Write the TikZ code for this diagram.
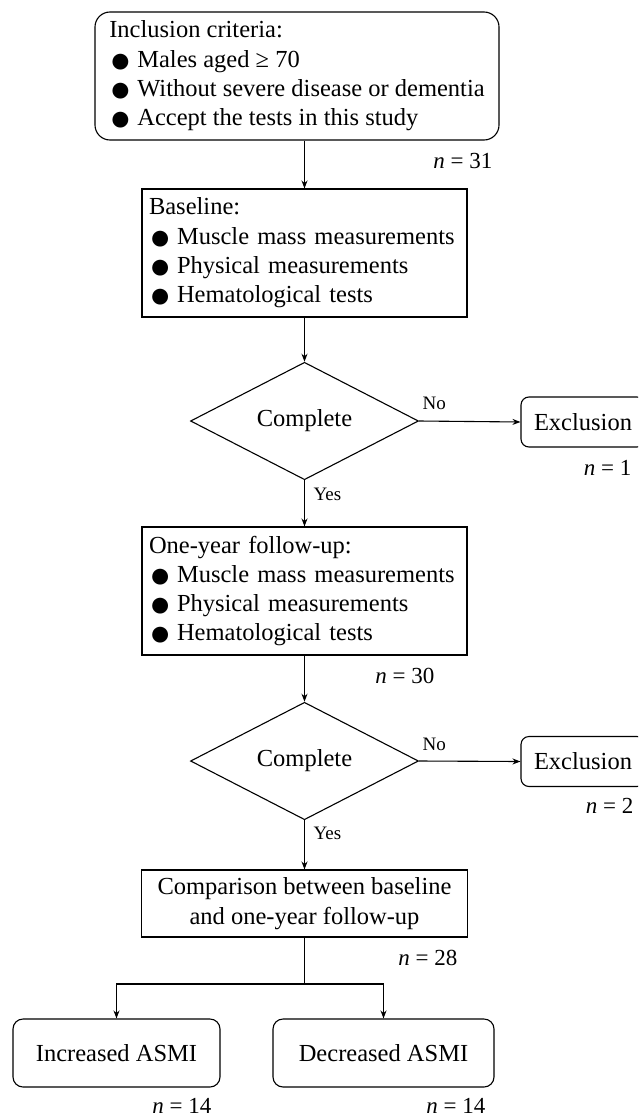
\documentclass[tikz,border=0pt]{standalone}
\usepackage{fontspec}
\usepackage{graphicx}
\setmainfont{Liberation Serif}
\usetikzlibrary{shapes.geometric,arrows.meta}
\newcommand{\boxsize}{\fontsize{24.5}{29.3}\selectfont}
\newcommand{\numsize}{\fontsize{23}{27}\selectfont}
\newcommand{\lblsize}{\fontsize{19}{23}\selectfont}
\newcommand{\itm}{\makebox[28pt][l]{\smash{\raisebox{-5pt}{\scalebox{1.5}{●}}}}}
\tikzset{
  sqbox/.style={draw,font=\boxsize,align=left,inner xsep=7pt,minimum width=325pt,minimum height=128pt,text width=311pt},
  rbox/.style={draw,font=\boxsize,rounded corners=10pt,align=center},
  check/.style={draw,diamond,font=\boxsize,inner sep=0pt,minimum width=228pt,minimum height=111pt},
  lbl/.style={font=\lblsize,inner sep=0pt,anchor=base west},
  num/.style={font=\numsize,inner sep=0pt,anchor=base east}
}
\begin{document}
\begin{tikzpicture}[x=1pt,y=-1pt,>={Stealth[length=8pt,width=6pt]},line width=1.1pt]
            \useasboundingbox (0,0) rectangle (638,1116);
            \clip (0,0) rectangle (638,1116);
            \node[rbox,rounded corners=15pt,align=left,inner xsep=13pt,minimum width=404pt,minimum height=128pt] (incl) at (297,76) {Inclusion criteria:\\ \itm Males aged ≥ 70\\ \itm Without severe disease or dementia\\ \itm Accept the tests in this study};
            \node[sqbox] (base) at (304.5,253) {Baseline:\\ \itm Muscle mass measurements\\ \itm Physical measurements\\ \itm Hematological tests};
            \node[check] (chk1) at (304.5,421) {Complete};
            \node[rbox,rounded corners=8pt,minimum width=124pt,minimum height=50pt] (exc1) at (583,422) {Exclusion};
            \node[sqbox] (fup) at (304.5,591) {One-year follow-up:\\ \itm Muscle mass measurements\\ \itm Physical measurements\\ \itm Hematological tests};
            \node[check] (chk2) at (304.5,761) {Complete};
            \node[rbox,rounded corners=8pt,minimum width=124pt,minimum height=50pt] (exc2) at (583,761.5) {Exclusion};
            \node[draw,font=\boxsize,align=center,minimum width=326pt,minimum height=67pt] (comp) at (304.5,903.5) {Comparison between baseline\\ and one-year follow-up};
            \node[rbox,minimum width=207pt,minimum height=68pt] (incr) at (116.5,1053) {Increased ASMI};
            \node[rbox,minimum width=221pt,minimum height=68pt] (decr) at (383.5,1053) {Decreased ASMI};
            \coordinate (split) at (304.5,984);
            % arrows
            \draw[->] (incl.south -| base.north) -- (base.north);
            \draw[->] (base.south) -- (chk1.north);
            \draw[->] (chk1.east) -- (exc1.west);
            \draw[->] (chk1.south) -- (fup.north);
            \draw[->] (fup.south) -- (chk2.north);
            \draw[->] (chk2.east) -- (exc2.west);
            \draw[->] (chk2.south) -- (comp.north);
            \draw (comp.south) -- (split);
            \draw[->] (split) -| (incr.north);
            \draw[->] (split) -| (decr.north);
            % labels
            \node[lbl] (no1) at (422,409) {No};
            \node[lbl] (yes1) at (313,500) {Yes};
            \node[lbl] (no2) at (422,750) {No};
            \node[lbl] (yes2) at (313,839) {Yes};
            \node[num] (n31) at (493,168) {\textit{n} = 31};
            \node[num] (n1) at (632,475) {\textit{n} = 1};
            \node[num] (n30) at (435,683) {\textit{n} = 30};
            \node[num] (n2) at (634,813) {\textit{n} = 2};
            \node[num] (n28) at (458,965) {\textit{n} = 28};
            \node[num] (n14a) at (212,1113) {\textit{n} = 14};
            \node[num] (n14b) at (486,1113) {\textit{n} = 14};
        \end{tikzpicture}
\end{document}
